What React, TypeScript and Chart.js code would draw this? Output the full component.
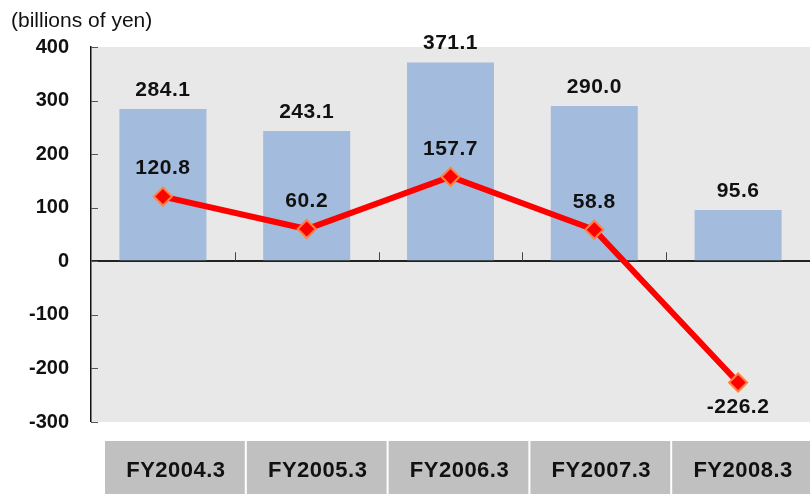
import React, { useEffect, useRef } from "react";
import { Chart, registerables } from "chart.js";

Chart.register(...registerables);

const categories = ["FY2004.3", "FY2005.3", "FY2006.3", "FY2007.3", "FY2008.3"];
const barValues = [284.1, 243.1, 371.1, 290.0, 95.6];
const lineValues = [120.8, 60.2, 157.7, 58.8, -226.2];
const yMin = -300;
const yMax = 400;
const yStep = 100;
const unitLabel = "(billions of yen)";

const FONT = "'Liberation Sans', Arial, sans-serif";

const decorPlugin = {
  id: "decor",
  beforeDraw(chart: any) {
    const { ctx, chartArea } = chart;
    ctx.save();
    ctx.fillStyle = "#e8e8e8";
    ctx.fillRect(chartArea.left, chartArea.top, chartArea.right - chartArea.left, chartArea.bottom - chartArea.top);
    ctx.restore();
  },
  afterDraw(chart: any) {
    const { ctx, chartArea, scales } = chart;
    const y = scales.y;
    ctx.save();
    // inward y ticks
    ctx.strokeStyle = "#555";
    ctx.lineWidth = 1;
    for (let v = yMin; v <= yMax; v += yStep) {
      const py = Math.round(y.getPixelForValue(v)) + 0.5;
      ctx.beginPath();
      ctx.moveTo(chartArea.left, py);
      ctx.lineTo(chartArea.left + 7, py);
      ctx.stroke();
    }
    // category boundary ticks on zero line
    const zeroY = y.getPixelForValue(0);
    const n = categories.length;
    const catW = (chartArea.right - chartArea.left) / n;
    ctx.strokeStyle = "#444";
    for (let i = 1; i < n; i++) {
      const px = Math.round(chartArea.left + i * catW) + 0.5;
      ctx.beginPath();
      ctx.moveTo(px, zeroY - 9);
      ctx.lineTo(px, zeroY);
      ctx.stroke();
    }
    // unit label
    ctx.fillStyle = "#111";
    ctx.font = `21px ${FONT}`;
    ctx.textAlign = "left";
    ctx.textBaseline = "middle";
    ctx.fillText(unitLabel, 11, 21);

    // category boxes
    const x0 = chartArea.left + 14;
    const pitch = catW - 2;
    const boxTop = chartArea.bottom + 19;
    const boxH = chart.height - boxTop;
    ctx.font = `bold 22px ${FONT}`;
    (ctx as any).letterSpacing = "0.5px";
    ctx.textAlign = "center";
    for (let i = 0; i < n; i++) {
      const bx = x0 + i * pitch;
      ctx.fillStyle = "#c0c0c0";
      ctx.fillRect(bx, boxTop, pitch - 2, boxH);
      ctx.fillStyle = "#111";
      ctx.fillText(String(chart.data.labels[i]), bx + pitch / 2, boxTop + boxH / 2 + 3);
    }
    (ctx as any).letterSpacing = "0px";

    // value labels
    ctx.font = `bold 21px ${FONT}`;
    (ctx as any).letterSpacing = "0.5px";
    ctx.fillStyle = "#111";
    ctx.textAlign = "center";
    ctx.textBaseline = "middle";
    const barMeta = chart.getDatasetMeta(1);
    barMeta.data.forEach((el: any, i: number) => {
      const v = barValues[i];
      ctx.fillText(v.toFixed(1), el.x, el.y - 19);
    });
    const lineMeta = chart.getDatasetMeta(0);
    lineMeta.data.forEach((el: any, i: number) => {
      const v = lineValues[i];
      const dy = v >= 0 ? -28 : 25;
      ctx.fillText(v.toFixed(1), el.x, el.y + dy);
    });
    ctx.restore();
  },
};

export default function App() {
  const ref = useRef<HTMLCanvasElement | null>(null);
  useEffect(() => {
    document.body.style.margin = "0";
    if (!ref.current) return;
    const chart = new Chart(ref.current, {
      type: "bar",
      data: {
        labels: categories,
        datasets: [
          {
            type: "line",
            label: "line",
            data: lineValues,
            borderColor: "#ff0000",
            borderWidth: 6,
            pointStyle: "rectRot",
            pointRadius: 9,
            pointBackgroundColor: "#ff0000",
            pointBorderColor: "#ff8040",
            pointBorderWidth: 2,
            tension: 0,
            order: 0,
          } as any,
          {
            type: "bar",
            label: "bar",
            data: barValues,
            backgroundColor: "#a3bbdc",
            barPercentage: 0.605,
            categoryPercentage: 1,
            order: 1,
          } as any,
        ],
      },
      options: {
        responsive: false,
        animation: false,
        devicePixelRatio: 1,
        layout: { autoPadding: false, padding: { top: 47, bottom: 72, left: 0, right: 0 } },
        plugins: {
          legend: { display: false },
          tooltip: { enabled: false },
          title: { display: false },
        },
        scales: {
          x: {
            display: false,
            offset: true,
          },
          y: {
            min: yMin,
            max: yMax,
            afterFit: (scale: any) => {
              scale.width = 91;
            },
            ticks: {
              stepSize: yStep,
              padding: 22,
              color: "#111",
              font: { family: FONT, size: 20, weight: "bold" },
            },
            grid: {
              drawTicks: false,
              color: (c: any) => (c.tick && c.tick.value === 0 ? "#222" : "rgba(0,0,0,0)"),
              lineWidth: (c: any) => (c.tick && c.tick.value === 0 ? 2 : 0),
            },
            border: { display: true, color: "#111", width: 1.5 },
          },
        },
      } as any,
      plugins: [decorPlugin],
    });
    return () => chart.destroy();
  }, []);
  return (
    <div style={{ position: "absolute", left: 0, top: 0, width: 810, height: 494 }}>
      <canvas ref={ref} width={810} height={494} />
    </div>
  );
}
